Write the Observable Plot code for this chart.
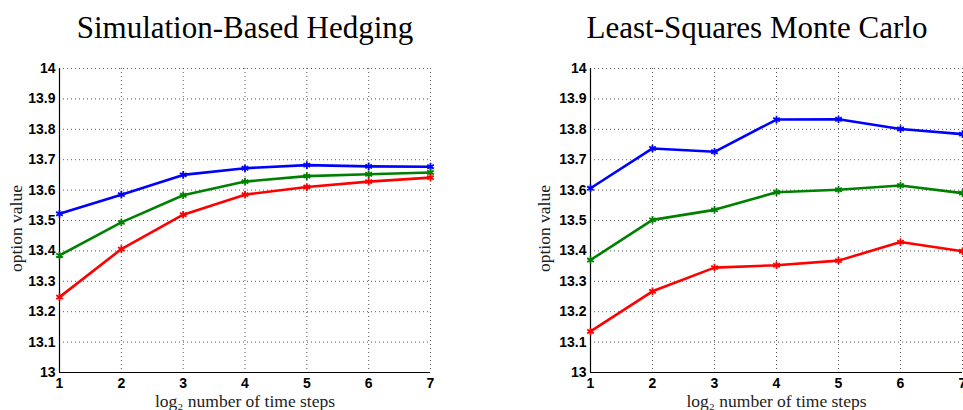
<!DOCTYPE html>
<html>
<head>
<meta charset="utf-8">
<script src="https://cdn.jsdelivr.net/npm/d3@7"></script>
<script src="https://cdn.jsdelivr.net/npm/@observablehq/plot@0.6"></script>
<style>
  html, body { margin: 0; padding: 0; background: #fff; }
  #wrap { position: relative; width: 963px; height: 410px; overflow: hidden; }
  .panel { position: absolute; top: 0; }
  .panel g[aria-label$="tick label"] { font-family: "Liberation Sans", Arial, sans-serif; font-size: 14px; font-weight: bold; fill: #000; }
  .title { position: absolute; top: 10px; font-family: "Liberation Serif", serif; font-size: 31px; color: #000; text-align: center; white-space: nowrap; }
</style>
</head>
<body>
<div id="wrap"></div>
<script>
// ---- data ----
const steps = [1, 2, 3, 4, 5, 6, 7];
const yTicks = [13, 13.1, 13.2, 13.3, 13.4, 13.5, 13.6, 13.7, 13.8, 13.9, 14];
const seriesNames = ["blue", "green", "red"];
const seriesColors = ["#0000ff", "#008000", "#ff0000"];

const hedgeBlue  = [13.522, 13.585, 13.650, 13.672, 13.682, 13.678, 13.677];
const hedgeGreen = [13.385, 13.494, 13.583, 13.628, 13.646, 13.652, 13.658];
const hedgeRed   = [13.248, 13.406, 13.519, 13.585, 13.610, 13.628, 13.641];

const lsmBlue  = [13.606, 13.737, 13.726, 13.832, 13.833, 13.801, 13.784];
const lsmGreen = [13.370, 13.502, 13.535, 13.593, 13.601, 13.615, 13.590];
const lsmRed   = [13.135, 13.267, 13.345, 13.353, 13.368, 13.429, 13.399];

const titles = ["Simulation-Based Hedging", "Least-Squares Monte Carlo"];
const xLabel = "log\u2082 number of time steps";
const yLabel = "option value";

function toRows(blue, green, red) {
  const rows = [];
  [blue, green, red].forEach((vals, i) =>
    vals.forEach((v, j) => rows.push({step: steps[j], value: v, series: seriesNames[i]})));
  return rows;
}

const labelFont = {fontFamily: "'Liberation Serif', serif", fontSize: 17.5, fontWeight: "normal", fill: "#222"};

function panel(rows, opts) {
  return Plot.plot({
    width: opts.width,
    height: 410,
    marginTop: 68,
    marginBottom: 38,
    marginLeft: opts.ml,
    marginRight: opts.mr,
    x: {domain: [1, 7]},
    y: {domain: [13, 14]},
    color: {domain: seriesNames, range: seriesColors},
    style: {fontFamily: "'Liberation Sans', Arial, sans-serif", fontSize: "14px", color: "#000", background: "transparent", overflow: "visible"},
    marks: [
      Plot.gridX(steps, {stroke: "#444", strokeOpacity: 0.9, strokeDasharray: "1,3"}),
      Plot.gridY(yTicks, {stroke: "#444", strokeOpacity: 0.9, strokeDasharray: "1,3"}),
      Plot.ruleX([1], {stroke: "#000", strokeWidth: 1.2}),
      Plot.ruleY([13], {stroke: "#000", strokeWidth: 1.2}),
      Plot.axisX(steps, {tickSize: 0, tickPadding: 6, label: null, tickFormat: d => String(d)}),
      Plot.axisY(yTicks, {tickSize: 0, tickPadding: 4, label: null, tickFormat: d => String(+d.toFixed(1))}),
      Plot.line(rows, {x: "step", y: "value", z: "series", stroke: "series", strokeWidth: 2.6}),
      Plot.dot(rows, {x: "step", y: "value", stroke: "series", symbol: "asterisk", r: 3.6, strokeWidth: 1.8}),
      Plot.text([xLabel], {frameAnchor: "bottom", textAnchor: "middle", lineAnchor: "middle", dy: 29, ...labelFont}),
      Plot.text([yLabel], {frameAnchor: "left", textAnchor: "middle", lineAnchor: "middle", dx: opts.ydx, dy: 8, rotate: -90, ...labelFont})
    ]
  });
}

const wrap = document.getElementById("wrap");

const left = panel(toRows(hedgeBlue, hedgeGreen, hedgeRed), {width: 481, ml: 59, mr: 51, ydx: -43});
left.classList.add("panel");
left.style.left = "0px";
wrap.appendChild(left);

const right = panel(toRows(lsmBlue, lsmGreen, lsmRed), {width: 482, ml: 109, mr: 1, ydx: -46});
right.classList.add("panel");
right.style.left = "481px";
wrap.appendChild(right);

const t1 = document.createElement("div");
t1.className = "title"; t1.textContent = titles[0];
t1.style.left = "45px"; t1.style.width = "400px";
wrap.appendChild(t1);

const t2 = document.createElement("div");
t2.className = "title"; t2.textContent = titles[1];
t2.style.left = "557px"; t2.style.width = "400px";
wrap.appendChild(t2);
</script>
</body>
</html>
